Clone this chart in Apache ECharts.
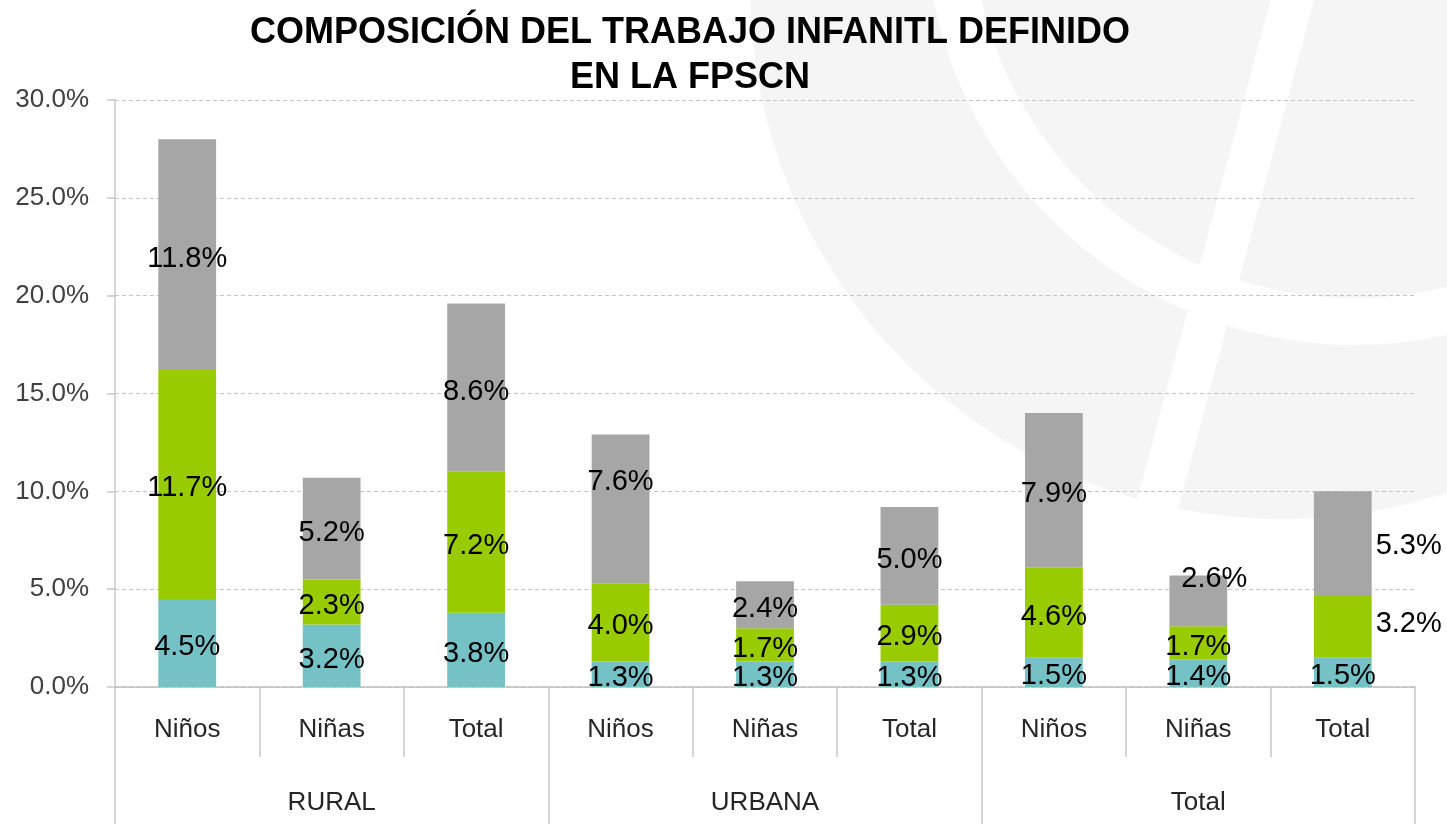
<!DOCTYPE html>
<html>
<head>
<meta charset="utf-8">
<script src="https://cdn.jsdelivr.net/npm/echarts@6/dist/echarts.min.js"></script>
<style>
html,body{margin:0;padding:0;background:#fff;}
#chart{width:1447px;height:824px;}
</style>
</head>
<body>
<div id="chart"></div>
<script>
// ---- data ----
var subCategories = ['Niños', 'Niñas', 'Total', 'Niños', 'Niñas', 'Total', 'Niños', 'Niñas', 'Total'];
var groups = ['RURAL', 'URBANA', 'Total'];
var seriesTeal = [4.5, 3.2, 3.8, 1.3, 1.3, 1.3, 1.5, 1.4, 1.5];
var seriesGreen = [11.7, 2.3, 7.2, 4.0, 1.7, 2.9, 4.6, 1.7, 3.2];
var seriesGrey = [11.8, 5.2, 8.6, 7.6, 2.4, 5.0, 7.9, 2.6, 5.3];
var yTicks = [0, 5, 10, 15, 20, 25, 30];
var titleText = 'COMPOSICIÓN DEL TRABAJO INFANITL DEFINIDO\nEN LA FPSCN';

// ---- chart ----
var FONT = '"Liberation Sans", Arial, sans-serif';
var chart = echarts.init(document.getElementById('chart'), null, {renderer: 'canvas'});

// label tweaks (styling only), keyed by series / index
var labelTweaks = {
  green: {8: {position: 'right', distance: 4, offset: [0, -2]}},
  grey: {3: {offset: [0, -27]}, 7: {offset: [16, -22]}, 8: {position: 'right', distance: 4, offset: [0, 3]}}
};

function buildData(values, key) {
  return values.map(function (v, i) {
    var t = (labelTweaks[key] || {})[i];
    if (t) return {value: v, label: t};
    return v;
  });
}

function makeSeries(name, values, key, color) {
  return {
    name: name,
    type: 'bar',
    stack: 'total',
    barWidth: '40%',
    xAxisIndex: 0,
    itemStyle: {color: color},
    label: {
      show: true,
      position: 'inside',
      offset: [0, 4],
      color: '#000',
      fontFamily: FONT,
      fontSize: 29,
      formatter: function (p) { return Number(p.value).toFixed(1) + '%'; }
    },
    data: buildData(values, key),
    z: 3
  };
}

var option = {
  backgroundColor: '#fff',
  animation: false,
  title: {
    text: titleText,
    left: 690,
    top: 11,
    textAlign: 'center',
    padding: 0,
    textStyle: {
      fontFamily: FONT,
      fontSize: 36,
      fontWeight: 'bold',
      color: '#000',
      lineHeight: 45
    }
  },
  graphic: [
    {type: 'circle', z: -20, silent: true, shape: {cx: 1282, cy: -13, r: 532}, style: {fill: '#f5f5f5'}},
    {type: 'circle', z: -19, silent: true, shape: {cx: 1355, cy: -85, r: 430}, style: {fill: '#ffffff'}},
    {type: 'circle', z: -18, silent: true, shape: {cx: 1355, cy: -85, r: 383}, style: {fill: '#f5f5f5'}},
    {type: 'line', z: -17, silent: true, shape: {x1: 1303, y1: -40, x2: 1140, y2: 570}, style: {stroke: '#ffffff', lineWidth: 42}}
  ],
  grid: {left: 115, right: 32, top: 100, bottom: 137, containLabel: false},
  xAxis: [
    {
      type: 'category',
      data: subCategories,
      position: 'bottom',
      axisLine: {show: true, lineStyle: {color: '#bfbfbf', width: 1.5}},
      axisTick: {show: true, interval: 0, length: 70, lineStyle: {color: '#c8c8c8', width: 1.5}},
      axisLabel: {interval: 0, margin: 30, color: '#262626', fontFamily: FONT, fontSize: 26, lineHeight: 26}
    },
    {
      type: 'category',
      data: groups,
      position: 'bottom',
      gridIndex: 0,
      axisLine: {show: false},
      axisTick: {show: true, interval: 0, length: 140, lineStyle: {color: '#c8c8c8', width: 1.5}},
      axisLabel: {interval: 0, margin: 103, color: '#262626', fontFamily: FONT, fontSize: 26, lineHeight: 26}
    }
  ],
  yAxis: {
    type: 'value',
    min: yTicks[0],
    max: yTicks[yTicks.length - 1],
    interval: yTicks[1] - yTicks[0],
    axisLine: {show: true, lineStyle: {color: '#c8c8c8', width: 1.5}},
    axisTick: {show: true, length: 8, lineStyle: {color: '#c8c8c8', width: 1.5}},
    splitLine: {show: true, lineStyle: {color: '#c4c4c4', type: [4, 3], width: 1.2}},
    axisLabel: {
      margin: 26,
      color: '#404040',
      fontFamily: FONT,
      fontSize: 26,
      formatter: function (v) { return v.toFixed(1) + '%'; }
    }
  },
  series: [
    makeSeries('Serie 1', seriesTeal, 'teal', '#74C1C6'),
    makeSeries('Serie 2', seriesGreen, 'green', '#99CC00'),
    makeSeries('Serie 3', seriesGrey, 'grey', '#A6A6A6'),
    {type: 'bar', xAxisIndex: 1, data: [], silent: true}
  ]
};

chart.setOption(option);
</script>
</body>
</html>
